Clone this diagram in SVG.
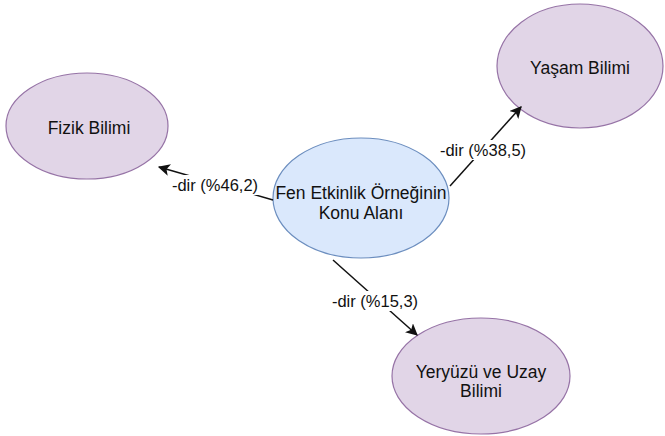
<svg xmlns="http://www.w3.org/2000/svg" width="665" height="436" viewBox="0 0 665 436">
<style>
.p{fill:#e1d5e7;stroke:#9673a6;stroke-width:1.2}
.b{fill:#dae8fc;stroke:#6c8ebf;stroke-width:1.2}
.t{font-family:"Liberation Sans",Arial,sans-serif;font-size:17.5px;fill:#111;text-anchor:middle;dominant-baseline:central}
.l{font-family:"Liberation Sans",Arial,sans-serif;font-size:16.5px;fill:#111;text-anchor:middle;dominant-baseline:central}
.e{stroke:#111;stroke-width:1.5;fill:none;marker-end:url(#a)}
</style>
<defs>
<marker id="a" viewBox="0 0 10 10" refX="9" refY="5" markerWidth="12" markerHeight="12" markerUnits="userSpaceOnUse" orient="auto">
<path d="M0,0 L10,5 L0,10 L2.5,5 Z" fill="#111"/>
</marker>
</defs>
<rect width="665" height="436" fill="#fff"/>
<g id="n-center"><ellipse class="b" cx="361" cy="198" rx="88" ry="60"/><text class="t" x="361" y="193">Fen Etkinlik Örneğinin</text><text class="t" x="361" y="213">Konu Alanı</text></g>
<g id="n-fizik"><ellipse class="p" cx="87" cy="126" rx="81" ry="53"/><text class="t" x="89" y="128">Fizik Bilimi</text></g>
<g id="n-yasam"><ellipse class="p" cx="580" cy="66" rx="83" ry="62"/><text class="t" x="580" y="68">Yaşam Bilimi</text></g>
<g id="n-yeryuzu"><ellipse class="p" cx="481" cy="376" rx="89" ry="58"/><text class="t" x="481" y="372">Yeryüzü ve Uzay</text><text class="t" x="481" y="391">Bilimi</text></g>
<g id="connectors">
<path class="e" d="M273,200 L159,167"/>
<path class="e" d="M450,186 L521,107"/>
<path class="e" d="M333,260 L417,335"/>
<rect x="171" y="175" width="88" height="20" fill="#fff"/>
<text class="l" x="215" y="185">-dir (%46,2)</text>
<rect x="444" y="140" width="78" height="20" fill="#fff"/>
<text class="l" x="483" y="150">-dir (%38,5)</text>
<rect x="331" y="291" width="88" height="20" fill="#fff"/>
<text class="l" x="375" y="301">-dir (%15,3)</text>
</g>
</svg>
